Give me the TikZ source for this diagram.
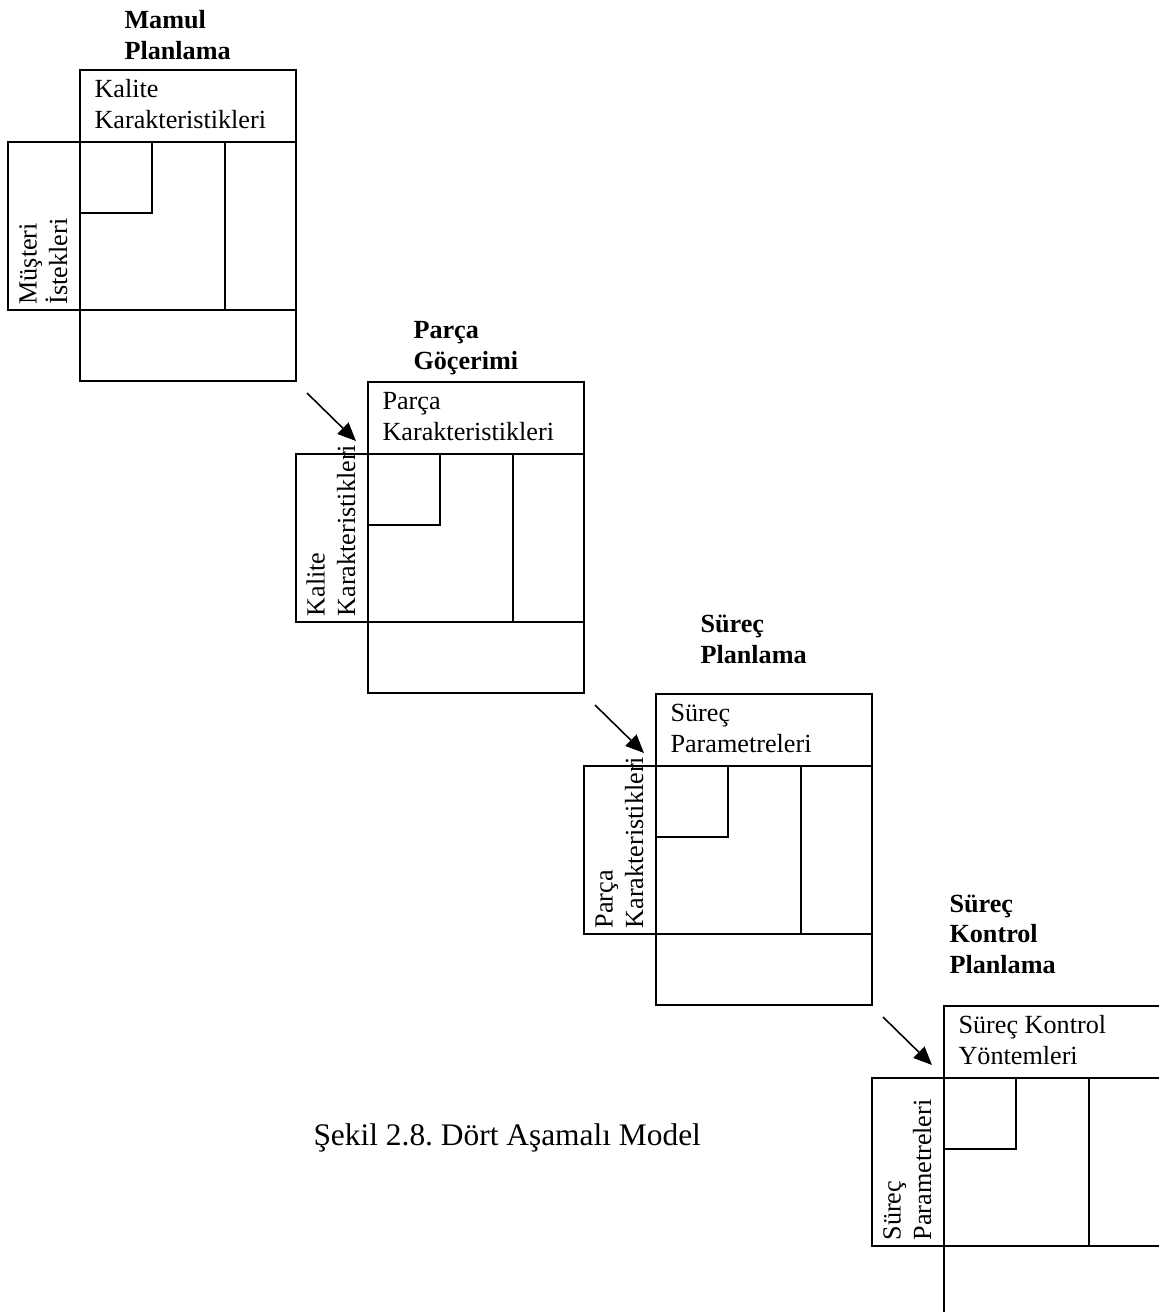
\documentclass[tikz,border=0pt]{standalone}
\usepackage{fontspec}
\setmainfont{Liberation Serif}
\usetikzlibrary{arrows.meta}
\frenchspacing
\tikzset{
  frame/.style={line width=0.8pt},
  lbl/.style={inner sep=0pt, align=left, font=\fontsize{10}{11.6}\selectfont},
  ttl/.style={inner sep=0pt, align=left, font=\fontsize{10}{11.6}\selectfont\bfseries},
  flow/.style={line width=0.6pt, -{Triangle[length=7pt,width=6pt]}}
}
\begin{document}
\begin{tikzpicture}[x=0.382pt,y=-0.382pt]
\useasboundingbox (0,0) rectangle (1159,1312);
\clip (0,0) rectangle (1159,1312);
\foreach \i/\ust/\yan in {1/{Kalite\\Karakteristikleri}/{Müşteri\\İstekleri},
  2/{Parça\\Karakteristikleri}/{Kalite\\Karakteristikleri},
  3/{Süreç\\Parametreleri}/{Parça\\Karakteristikleri},
  4/{Süreç Kontrol\\Yöntemleri}/{Süreç\\Parametreleri}}{
  \pgfmathsetmacro{\xB}{80+288*(\i-1)}
  \pgfmathsetmacro{\yB}{70+312*(\i-1)}
  \draw[frame] (\xB,\yB) rectangle (\xB+216,\yB+72);
  \draw[frame] (\xB,\yB+72) rectangle (\xB+216,\yB+240);
  \draw[frame] (\xB,\yB+240) rectangle (\xB+216,\yB+311);
  \draw[frame] (\xB-72,\yB+72) rectangle (\xB,\yB+240);
  \draw[frame] (\xB,\yB+143) -| (\xB+72,\yB+72);
  \draw[frame] (\xB+145,\yB+72) -- (\xB+145,\yB+240);
  \node[lbl, anchor=base west] (ust\i) at (\xB+14,\yB+58) {\ust};
  \node[lbl, rotate=90, anchor=base west] (yan\i) at (\xB-13,\yB+235) {\yan};
  \coordinate (ok\i a) at (\xB-61,\yB+11);
  \coordinate (ok\i b) at (\xB-12,\yB+59);
}
\node[ttl, anchor=base west] (baslik1) at (124,59) {Mamul\\Planlama};
\node[ttl, anchor=base west] (baslik2) at (413,369) {Parça\\Göçerimi};
\node[ttl, anchor=base west] (baslik3) at (700,663) {Süreç\\Planlama};
\node[ttl, anchor=base west] (baslik4) at (949,973) {Süreç\\Kontrol\\Planlama};
\foreach \i in {2,3,4} \draw[flow] (ok\i a) -- (ok\i b);
\node[inner sep=0pt, anchor=base west, font=\fontsize{12}{14}\selectfont] (sekil) at (313,1145) {Şekil 2.8. Dört Aşamalı Model};
\end{tikzpicture}
\end{document}
